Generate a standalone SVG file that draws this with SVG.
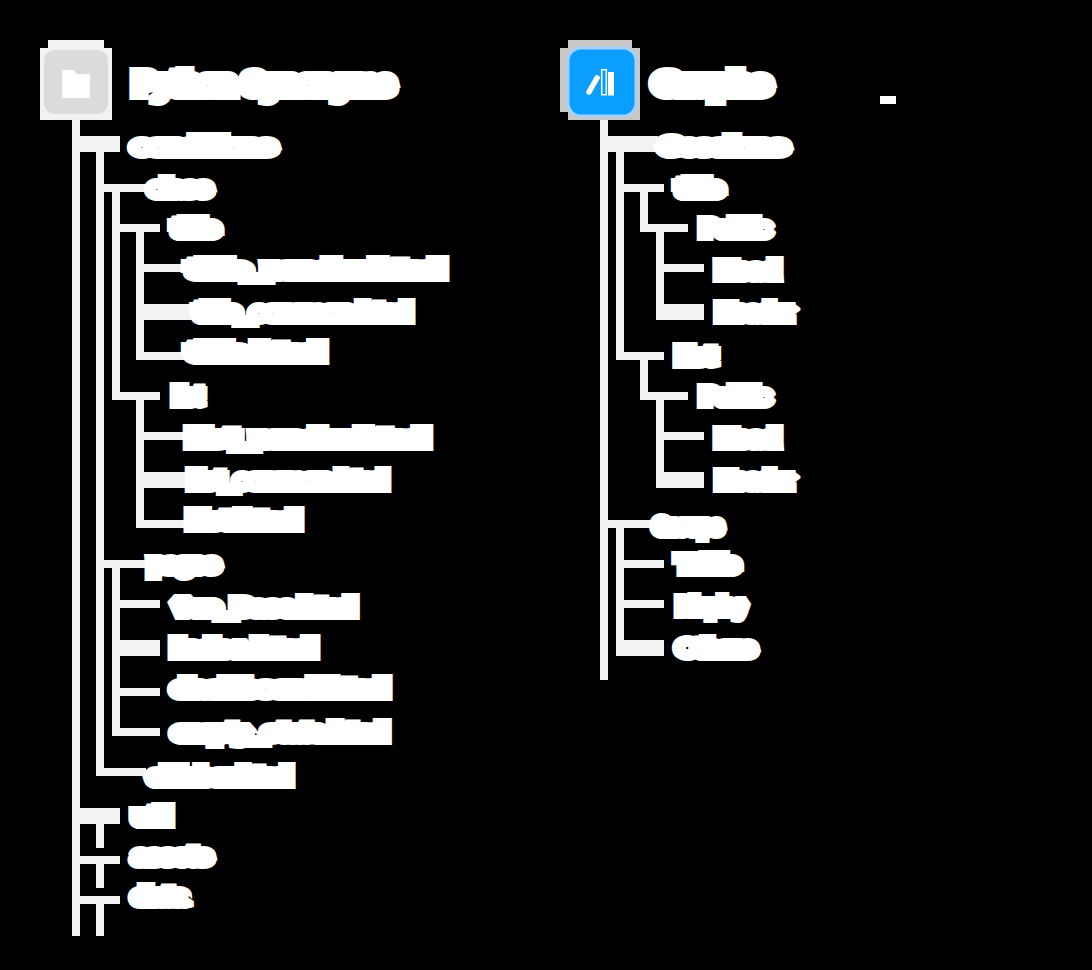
<svg xmlns="http://www.w3.org/2000/svg" width="1092" height="970" viewBox="0 0 1092 970">
<style>
.bg{fill:#000}
.c rect{fill:#f2f2f2}
text{fill:#fff;stroke:#fff;font-family:"Liberation Sans",Arial,sans-serif;font-weight:700;stroke-linejoin:miter;stroke-miterlimit:1.5}
.t{font-size:20px;stroke-width:12px}
.h{font-size:27px;stroke-width:14px}
</style>
<rect class="bg" width="1092" height="970"/>
<g id="connectors" class="c">
<rect x="72" y="120" width="8" height="816"/>
<rect x="80" y="136" width="40" height="16"/>
<rect x="96" y="152" width="8" height="624"/>
<rect x="104" y="184" width="42" height="8"/>
<rect x="112" y="192" width="8" height="208"/>
<rect x="120" y="224" width="40" height="8"/>
<rect x="136" y="232" width="8" height="128"/>
<rect x="144" y="264" width="42" height="8"/>
<rect x="144" y="304" width="48" height="16"/>
<rect x="144" y="352" width="42" height="8"/>
<rect x="120" y="392" width="40" height="8"/>
<rect x="136" y="400" width="8" height="128"/>
<rect x="144" y="432" width="42" height="8"/>
<rect x="144" y="472" width="42" height="16"/>
<rect x="144" y="520" width="42" height="8"/>
<rect x="104" y="560" width="42" height="8"/>
<rect x="112" y="568" width="8" height="168"/>
<rect x="120" y="600" width="40" height="8"/>
<rect x="120" y="640" width="40" height="16"/>
<rect x="120" y="688" width="40" height="8"/>
<rect x="120" y="728" width="40" height="8"/>
<rect x="104" y="768" width="42" height="8"/>
<rect x="80" y="808" width="40" height="16"/>
<rect x="96" y="824" width="8" height="24"/>
<rect x="80" y="856" width="40" height="8"/>
<rect x="96" y="864" width="8" height="24"/>
<rect x="80" y="896" width="40" height="8"/>
<rect x="96" y="904" width="8" height="32"/>
<rect x="600" y="118" width="8" height="562"/>
<rect x="608" y="136" width="50" height="16"/>
<rect x="616" y="152" width="8" height="208"/>
<rect x="624" y="184" width="40" height="8"/>
<rect x="640" y="192" width="8" height="40"/>
<rect x="648" y="224" width="40" height="8"/>
<rect x="656" y="232" width="8" height="88"/>
<rect x="664" y="264" width="40" height="8"/>
<rect x="664" y="304" width="40" height="16"/>
<rect x="624" y="352" width="40" height="8"/>
<rect x="640" y="360" width="8" height="40"/>
<rect x="648" y="392" width="40" height="8"/>
<rect x="656" y="400" width="8" height="88"/>
<rect x="664" y="432" width="40" height="8"/>
<rect x="664" y="472" width="40" height="16"/>
<rect x="608" y="520" width="42" height="8"/>
<rect x="616" y="528" width="8" height="128"/>
<rect x="624" y="560" width="40" height="8"/>
<rect x="624" y="600" width="40" height="8"/>
<rect x="624" y="640" width="40" height="16"/>
</g>
<g id="root-python">
<path d="M48 40H104V48H112V120H40V48H48Z" fill="#f2f2f2"/>
<rect x="44" y="50" width="64" height="64" rx="11" fill="#dcdcdc"/>
<path d="M62 70H74L76 74H90V98H62Z" fill="#fff"/>
<text class="h" x="135" y="93" textLength="258" lengthAdjust="spacingAndGlyphs">Python-Synonyms</text>
</g>
<g id="n-conditions"><text class="t" x="134" y="153" textLength="140" lengthAdjust="spacingAndGlyphs">conditions</text></g>
<g id="n-class"><text class="t" x="150" y="195" textLength="60" lengthAdjust="spacingAndGlyphs">class</text></g>
<g id="n-title"><text class="t" x="174" y="235" textLength="44" lengthAdjust="spacingAndGlyphs">title</text></g>
<g id="n-title-render"><text class="t" x="190" y="276" textLength="252" lengthAdjust="spacingAndGlyphs">title_render.html</text></g>
<g id="n-title-common"><text class="t" x="196" y="319" textLength="214" lengthAdjust="spacingAndGlyphs">title_common.html</text></g>
<g id="n-title-html"><text class="t" x="190" y="359" textLength="132" lengthAdjust="spacingAndGlyphs">title.html</text></g>
<g id="n-list"><text class="t" x="174" y="403" textLength="28" lengthAdjust="spacingAndGlyphs">list</text></g>
<g id="n-list-render"><text class="t" x="190" y="445" textLength="236" lengthAdjust="spacingAndGlyphs">list_render.html</text></g>
<g id="n-list-common"><text class="t" x="190" y="487" textLength="196" lengthAdjust="spacingAndGlyphs">list_common.html</text></g>
<g id="n-list-html"><text class="t" x="190" y="527" textLength="108" lengthAdjust="spacingAndGlyphs">list.html</text></g>
<g id="n-pages"><text class="t" x="150" y="571" textLength="68" lengthAdjust="spacingAndGlyphs">pages</text></g>
<g id="n-vue"><text class="t" x="174" y="614" textLength="180" lengthAdjust="spacingAndGlyphs">Vue_Base.html</text></g>
<g id="n-index"><text class="t" x="174" y="655" textLength="140" lengthAdjust="spacingAndGlyphs">index.html</text></g>
<g id="n-dashboard"><text class="t" x="174" y="695" textLength="212" lengthAdjust="spacingAndGlyphs">dashboard.html</text></g>
<g id="n-empty"><text class="t" x="174" y="739" textLength="212" lengthAdjust="spacingAndGlyphs">empty_state.html</text></g>
<g id="n-sidebar"><text class="t" x="150" y="783" textLength="140" lengthAdjust="spacingAndGlyphs">sidebar.html</text></g>
<g id="n-util"><text class="t" x="134" y="823" textLength="36" lengthAdjust="spacingAndGlyphs">util</text></g>
<g id="n-assets"><text class="t" x="134" y="863" textLength="76" lengthAdjust="spacingAndGlyphs">assets</text></g>
<g id="n-data"><text class="t" x="134" y="903" textLength="52" lengthAdjust="spacingAndGlyphs">data</text></g>
<g id="root-graphs">
<path d="M568 40H632V48H640V120H568V112H560V48H568Z" fill="#c8c8c8"/>
<rect x="568" y="48" width="68" height="68" rx="13" fill="#0a9eff" stroke="#a8d0ff" stroke-width="3"/>
<path d="M589 92L597 78" fill="none" stroke="#fff" stroke-width="5.5" stroke-linecap="round"/>
<rect x="601.7" y="69.700" width="4.600" height="25" fill="none" stroke="#fff" stroke-width="1.500"/>
<rect x="608" y="72" width="6" height="23.500" fill="#fff"/>
<text class="h" x="655" y="93" textLength="114" lengthAdjust="spacingAndGlyphs">Graphs</text>
</g>
<g id="mark"><rect x="880" y="96" width="16" height="8" fill="#fff"/></g>
<g id="r-sessions"><text class="t" x="662" y="153" textLength="124" lengthAdjust="spacingAndGlyphs">Sessions</text></g>
<g id="r-title-1"><text class="t" x="678" y="195" textLength="44" lengthAdjust="spacingAndGlyphs">title</text></g>
<g id="r-public-1"><text class="t" x="702" y="235" textLength="68" lengthAdjust="spacingAndGlyphs">Public</text></g>
<g id="r-head-1"><text class="t" x="718" y="277" textLength="60" lengthAdjust="spacingAndGlyphs">Head</text></g>
<g id="r-header-1"><text class="t" x="718" y="319" textLength="76" lengthAdjust="spacingAndGlyphs">Header</text></g>
<g id="r-list"><text class="t" x="678" y="363" textLength="36" lengthAdjust="spacingAndGlyphs">list</text></g>
<g id="r-public-2"><text class="t" x="702" y="403" textLength="68" lengthAdjust="spacingAndGlyphs">Public</text></g>
<g id="r-head-2"><text class="t" x="718" y="445" textLength="60" lengthAdjust="spacingAndGlyphs">Head</text></g>
<g id="r-header-2"><text class="t" x="718" y="487" textLength="76" lengthAdjust="spacingAndGlyphs">Header</text></g>
<g id="r-groups"><text class="t" x="654" y="533" textLength="68" lengthAdjust="spacingAndGlyphs">Groups</text></g>
<g id="r-table"><text class="t" x="678" y="571" textLength="60" lengthAdjust="spacingAndGlyphs">Table</text></g>
<g id="r-display"><text class="t" x="678" y="613" textLength="68" lengthAdjust="spacingAndGlyphs">Display</text></g>
<g id="r-others"><text class="t" x="678" y="655" textLength="76" lengthAdjust="spacingAndGlyphs">Others</text></g>
</svg>
